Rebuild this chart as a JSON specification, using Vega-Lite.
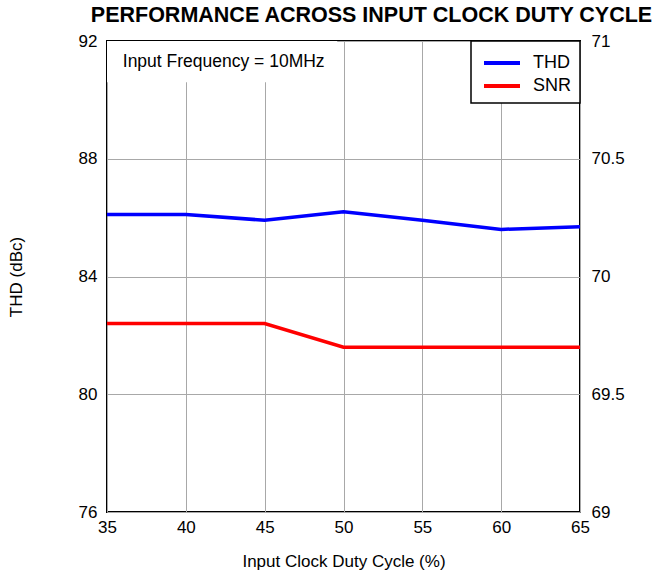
{
  "$schema": "https://vega.github.io/schema/vega-lite/v6.json",
  "autosize": "none",
  "width": 473,
  "height": 471,
  "padding": {"left": 107, "top": 41, "right": 74, "bottom": 66},
  "background": "white",
  "config": {
    "font": "Liberation Sans",
    "view": {"stroke": "black", "strokeWidth": 2},
    "axis": {
      "labelFont": "Liberation Sans", "labelFontSize": 17, "labelColor": "black",
      "titleFont": "Liberation Sans", "titleFontSize": 17, "titleFontWeight": "normal", "titleColor": "black",
      "domain": false, "ticks": false, "gridColor": "#a8a8a8", "gridWidth": 1, "gridOpacity": 1
    },
    "legend": {
      "orient": "top-right", "offset": 0, "strokeColor": "black", "strokeWidth": 1.5, "fillColor": "white",
      "padding": 8, "labelFont": "Liberation Sans", "labelFontSize": 18, "labelColor": "black",
      "symbolType": "M-0.75,0H2.25", "symbolStrokeWidth": 4, "symbolSize": 576, "labelOffset": 26, "rowPadding": -3
    }
  },
  "title": {
    "text": "PERFORMANCE ACROSS INPUT CLOCK DUTY CYCLE",
    "font": "Liberation Sans", "fontSize": 21.5, "fontWeight": "bold", "color": "black",
    "anchor": "middle", "dx": 28, "offset": 6
  },
  "data": {
    "values": [
      {"duty": 35, "thd": 86.11, "snr": 69.8},
      {"duty": 40, "thd": 86.11, "snr": 69.8},
      {"duty": 45, "thd": 85.91, "snr": 69.8},
      {"duty": 50, "thd": 86.2, "snr": 69.7},
      {"duty": 55, "thd": 85.91, "snr": 69.7},
      {"duty": 60, "thd": 85.6, "snr": 69.7},
      {"duty": 65, "thd": 85.69, "snr": 69.7}
    ]
  },
  "layer": [
    {
      "encoding": {
        "x": {"field": "duty", "type": "quantitative", "scale": {"domain": [35, 65], "nice": false},
              "axis": {"values": [35, 40, 45, 50, 55, 60, 65], "title": "Input Clock Duty Cycle (%)", "labelPadding": 7, "titlePadding": 18, "labelFlush": false}},
        "y": {"field": "thd", "type": "quantitative", "scale": {"domain": [76, 92], "nice": false},
              "axis": {"values": [76, 80, 84, 88, 92], "title": "THD (dBc)", "labelPadding": 10, "titlePadding": 53}}
      },
      "layer": [
        {
          "data": {"values": [{"duty": 35, "duty2": 49.6, "thd": 92, "thd2": 90.6}]},
          "mark": {"type": "rect", "fill": "white"},
          "encoding": {"x2": {"field": "duty2"}, "y2": {"field": "thd2"}}
        },
        {
          "data": {"values": [{"duty": 36, "thd": 91.3, "label": "Input Frequency = 10MHz"}]},
          "mark": {"type": "text", "align": "left", "baseline": "middle", "fontSize": 17.5, "font": "Liberation Sans", "color": "black"},
          "encoding": {"text": {"field": "label"}}
        },
        {
          "mark": {"type": "line", "strokeWidth": 3.5},
          "encoding": {
            "color": {"datum": "THD", "type": "nominal", "scale": {"domain": ["THD", "SNR"], "range": ["#0000ff", "#ff0000"]}, "legend": {"title": null}}
          }
        }
      ]
    },
    {
      "mark": {"type": "line", "strokeWidth": 3.5},
      "encoding": {
        "x": {"field": "duty", "type": "quantitative"},
        "y": {"field": "snr", "type": "quantitative", "scale": {"domain": [69, 71], "nice": false},
              "axis": {"orient": "right", "values": [69, 69.5, 70, 70.5, 71], "format": "~g", "title": null, "grid": false, "labelPadding": 11}},
        "color": {"datum": "SNR", "type": "nominal"}
      }
    }
  ],
  "resolve": {"scale": {"y": "independent"}}
}
